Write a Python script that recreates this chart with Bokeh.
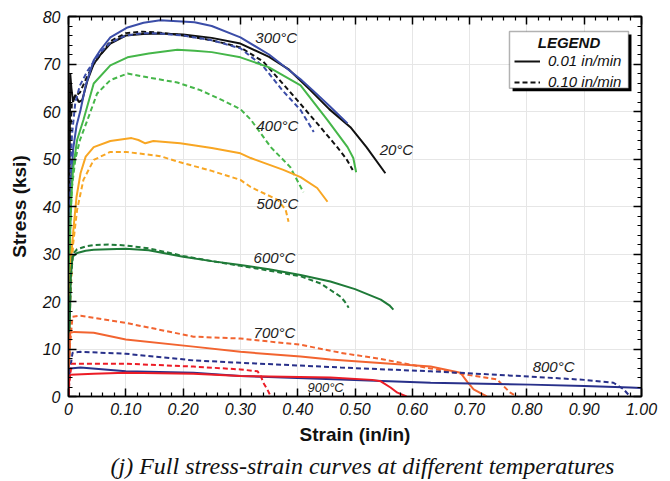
from bokeh.plotting import figure
from bokeh.models import (Range1d, FixedTicker, LinearAxis, Legend, LegendItem, Label,
                          BoxAnnotation, Title, NumeralTickFormatter)
from bokeh.embed import file_html
from bokeh.resources import INLINE

# ---------------- data (strain in/in, stress ksi) ----------------
s20_a = [0, 0.002, 0.003, 0.005, 0.008, 0.012, 0.018, 0.024, 0.033, 0.044, 0.056, 0.073, 0.10, 0.13, 0.16, 0.20, 0.25, 0.30, 0.35, 0.385, 0.422, 0.455, 0.492, 0.52, 0.553]
f20_a = [0, 50, 68, 65, 62, 63.5, 62, 62.4, 66.5, 70, 72, 74.3, 76, 76.3, 76.4, 76.2, 75.5, 74.3, 71.5, 68.8, 64.5, 60.5, 56.7, 52.5, 47]
s20_b = [0, 0.003, 0.006, 0.01, 0.02, 0.033, 0.044, 0.056, 0.073, 0.10, 0.13, 0.16, 0.20, 0.25, 0.30, 0.34, 0.384, 0.434, 0.469, 0.485, 0.496]
f20_b = [0, 55, 62, 63, 64, 67.5, 70, 72, 74.8, 76.5, 76.8, 76.6, 76, 75, 73.5, 70.5, 64.5, 57.5, 52.5, 50, 47.7]

s300_a = [0, 0.002, 0.004, 0.008, 0.014, 0.021, 0.03, 0.044, 0.056, 0.073, 0.103, 0.131, 0.16, 0.19, 0.22, 0.25, 0.30, 0.35, 0.405, 0.426, 0.455, 0.487]
f300_a = [0, 30, 43, 52, 57, 60.3, 65.5, 70.8, 73, 75.6, 77.7, 78.7, 79.2, 79, 78.8, 78, 75.6, 72, 66.8, 64.5, 61.2, 57.5]
s300_b = [0, 0.003, 0.006, 0.012, 0.02, 0.033, 0.044, 0.056, 0.073, 0.10, 0.13, 0.16, 0.20, 0.25, 0.30, 0.34, 0.373, 0.405, 0.428]
f300_b = [0, 45, 55, 62, 65.5, 68.5, 70.5, 72.5, 74.5, 76, 76.5, 76.4, 76, 75, 73.3, 69.5, 64.5, 60.3, 55.7]

s400_a = [0, 0.002, 0.004, 0.008, 0.015, 0.026, 0.044, 0.073, 0.103, 0.14, 0.19, 0.22, 0.25, 0.30, 0.35, 0.405, 0.452, 0.487, 0.497, 0.502]
f400_a = [0, 30, 40, 48, 54, 58.2, 65.9, 69.7, 71.4, 72.2, 73, 72.8, 72.5, 71.4, 69.3, 65.5, 58.2, 52.5, 50.2, 47.2]
s400_b = [0, 0.003, 0.006, 0.012, 0.02, 0.033, 0.05, 0.073, 0.103, 0.138, 0.19, 0.23, 0.27, 0.30, 0.318, 0.353, 0.387, 0.41]
f400_b = [0, 35, 44, 50, 54, 58.2, 63.8, 66.6, 68, 67.2, 66.1, 64.5, 62.3, 60.5, 58.3, 52.5, 48.3, 43]

s500_a = [0, 0.002, 0.005, 0.009, 0.014, 0.021, 0.03, 0.044, 0.073, 0.11, 0.122, 0.134, 0.148, 0.195, 0.25, 0.30, 0.318, 0.375, 0.405, 0.434, 0.452]
f500_a = [0, 20, 30, 35.7, 42, 47, 50.5, 52.5, 53.8, 54.4, 54, 53.3, 53.8, 53.3, 52.3, 51.2, 50.2, 47.7, 46.2, 43.9, 41]
s500_b = [0, 0.003, 0.008, 0.015, 0.026, 0.044, 0.073, 0.10, 0.16, 0.195, 0.25, 0.30, 0.318, 0.365, 0.379, 0.384]
f500_b = [0, 20, 32, 39.3, 45.6, 49.8, 51.5, 51.5, 50.6, 49.3, 47.5, 45.6, 44.1, 41.4, 39.3, 36.8]

s600_a = [0, 0.002, 0.004, 0.007, 0.015, 0.03, 0.044, 0.07, 0.10, 0.14, 0.20, 0.25, 0.30, 0.35, 0.405, 0.457, 0.50, 0.545, 0.56, 0.567]
f600_a = [0, 15, 25, 29.4, 30.2, 30.7, 30.9, 31, 31.1, 30.8, 29.4, 28.5, 27.7, 26.8, 25.6, 24.2, 22.6, 20.4, 19.2, 18.3]
s600_b = [0, 0.002, 0.004, 0.008, 0.015, 0.03, 0.044, 0.07, 0.10, 0.14, 0.20, 0.25, 0.30, 0.35, 0.405, 0.44, 0.475, 0.482, 0.489]
f600_b = [0, 15, 25, 30, 31, 31.6, 31.9, 32, 31.8, 31.2, 29.6, 28.5, 27.5, 26.5, 25.3, 23.8, 21, 20, 18.7]

s700_a = [0, 0.001, 0.003, 0.01, 0.044, 0.10, 0.218, 0.30, 0.405, 0.457, 0.55, 0.632, 0.684, 0.696, 0.707, 0.73]
f700_a = [0, 8, 13.4, 13.6, 13.4, 12, 10.5, 9.4, 8.4, 7.8, 7, 6.3, 5, 3.1, 1.5, 0]
s700_b = [0, 0.002, 0.007, 0.021, 0.10, 0.218, 0.30, 0.405, 0.475, 0.55, 0.632, 0.70, 0.748, 0.76, 0.771, 0.783]
f700_b = [0, 10, 16.8, 17, 15.5, 12.6, 12.2, 10.9, 9.2, 7.8, 5.9, 4.5, 3.6, 2.1, 0.8, 0]

s800_a = [0, 0.001, 0.003, 0.021, 0.10, 0.218, 0.30, 0.475, 0.632, 0.806, 0.90, 0.98, 1.0]
f800_a = [0, 4, 5.9, 6.1, 5.3, 5.0, 4.3, 3.6, 2.9, 2.5, 2.2, 1.9, 1.8]
s800_b = [0, 0.002, 0.007, 0.021, 0.10, 0.218, 0.30, 0.475, 0.632, 0.806, 0.90, 0.951, 0.969, 0.98]
f800_b = [0, 5, 9.2, 9.4, 9.0, 7.6, 7.1, 6.1, 5.3, 4.2, 3.5, 2.9, 1.5, 0]

s900_a = [0, 0.001, 0.003, 0.044, 0.10, 0.218, 0.30, 0.457, 0.53, 0.545, 0.562, 0.574, 0.59]
f900_a = [0, 3, 4.6, 4.8, 5.0, 4.8, 4.3, 4.0, 3.5, 3.2, 1.9, 0.8, 0]
s900_b = [0, 0.002, 0.006, 0.021, 0.10, 0.218, 0.30, 0.33, 0.336, 0.34, 0.347, 0.353]
f900_b = [0, 4, 6.9, 6.9, 6.9, 6.3, 5.7, 5.3, 4.2, 2.9, 1.5, 0]

temps = ["20", "300", "400", "500", "600", "700", "800", "900"]
x_ticks = [0, 0.1, 0.2, 0.3, 0.4, 0.5, 0.6, 0.7, 0.8, 0.9, 1.0]
y_ticks = [0, 10, 20, 30, 40, 50, 60, 70, 80]
legend_title = "LEGEND"
legend_labels = ["0.01 in/min", "0.10 in/min"]

series = {
    "20": (s20_a, f20_a, s20_b, f20_b),
    "300": (s300_a, f300_a, s300_b, f300_b),
    "400": (s400_a, f400_a, s400_b, f400_b),
    "500": (s500_a, f500_a, s500_b, f500_b),
    "600": (s600_a, f600_a, s600_b, f600_b),
    "700": (s700_a, f700_a, s700_b, f700_b),
    "800": (s800_a, f800_a, s800_b, f800_b),
    "900": (s900_a, f900_a, s900_b, f900_b),
}

# ---------------- styles ----------------
colors = {"20": "#111111", "300": "#3b4da8", "400": "#45b649", "500": "#f8a623",
          "600": "#1f7a38", "700": "#f26430", "800": "#28308a", "900": "#ec1c26"}
label_pos = {"20": (0.543, 51.9), "300": (0.326, 75.6), "400": (0.328, 57.1),
             "500": (0.328, 40.7), "600": (0.323, 29.2), "700": (0.323, 13.4),
             "800": (0.81, 6.3), "900": (0.417, 1.9)}
FONT = "Liberation Sans"

p = figure(width=670, height=481, x_range=Range1d(0, 1), y_range=Range1d(0, 80),
           output_backend="svg", toolbar_location=None,
           min_border_left=68, min_border_right=29, min_border_top=16, min_border_bottom=80)
p.background_fill_color = "white"
p.border_fill_color = "white"
p.outline_line_color = "black"
p.outline_line_width = 1.5

# legend frame: shadow, then white box with border
p.add_layout(BoxAnnotation(left=0.775, right=0.9825, top=76.2, bottom=64.25,
                           fill_color="black", fill_alpha=1, line_color=None))
p.add_layout(BoxAnnotation(left=0.7696, right=0.9773, top=76.85, bottom=64.88,
                           fill_color="white", fill_alpha=1, line_color="black", line_width=1.5))
p.add_layout(Label(x=0.8735, y=74.5, text=legend_title, text_font=FONT,
                   text_font_style="bold italic", text_font_size="15px", text_color="#111111",
                   text_align="center", text_baseline="middle"))

renderers = {}
for t in temps:
    sa, fa, sb, fb = series[t]
    ra = p.line(sa, fa, line_color=colors[t], line_width=2)
    rb = p.line(sb, fb, line_color=colors[t], line_width=2, line_dash="5 3")
    renderers[t] = (ra, rb)
    lx, ly = label_pos[t]
    p.add_layout(Label(x=lx, y=ly, text=t + "°C", text_font=FONT, text_font_style="italic",
                       text_font_size="13px" if t == "900" else "15px", text_color="#222222",
                       text_baseline="middle", text_align="left"))

# axes
for ax in (p.xaxis[0], p.yaxis[0]):
    ax.axis_line_color = "black"
    ax.axis_line_width = 1.5
    ax.major_tick_in = 8
    ax.major_tick_out = 0
    ax.minor_tick_in = 4
    ax.minor_tick_out = 0
    ax.major_tick_line_width = 1.5
    ax.minor_tick_line_width = 1.2
    ax.major_label_text_font = FONT
    ax.major_label_text_font_style = "italic"
    ax.major_label_text_font_size = "16px"
    ax.major_label_text_color = "#111111"
    ax.axis_label_text_font = FONT
    ax.axis_label_text_font_style = "bold"
    ax.axis_label_text_font_size = "19px"
    ax.axis_label_text_color = "#111111"

xminor = [round(i * 0.02, 2) for i in range(51) if i % 5]
yminor = [i * 2 for i in range(41) if i % 5]
p.xaxis[0].ticker = FixedTicker(ticks=x_ticks, minor_ticks=xminor)
p.yaxis[0].ticker = FixedTicker(ticks=y_ticks, minor_ticks=yminor)
p.xaxis[0].formatter = NumeralTickFormatter(format="0.00")
p.xaxis[0].major_label_overrides = {0: "0"}
p.xaxis[0].axis_label = "Strain (in/in)"
p.yaxis[0].axis_label = "Stress (ksi)"
p.xaxis[0].major_label_standoff = 6
p.xaxis[0].axis_label_standoff = 6
p.yaxis[0].major_label_standoff = 8
p.yaxis[0].axis_label_standoff = 10

# mirrored axes
for loc, tk, mn in (("above", x_ticks, xminor), ("right", y_ticks, yminor)):
    ax = LinearAxis(ticker=FixedTicker(ticks=tk, minor_ticks=mn))
    ax.axis_line_color = "black"
    ax.axis_line_width = 1.5
    ax.major_tick_in = 8
    ax.major_tick_out = 0
    ax.minor_tick_in = 4
    ax.minor_tick_out = 0
    ax.major_tick_line_width = 1.5
    ax.minor_tick_line_width = 1.2
    ax.major_label_overrides = {v: "" for v in tk}
    ax.major_label_standoff = 0
    p.add_layout(ax, loc)

p.xgrid.ticker = FixedTicker(ticks=x_ticks)
p.ygrid.ticker = FixedTicker(ticks=y_ticks)
p.grid.grid_line_color = "#e6e6e6"
p.grid.grid_line_width = 1

legend = Legend(items=[LegendItem(label=legend_labels[0], renderers=[renderers["20"][0]]),
                       LegendItem(label=legend_labels[1], renderers=[renderers["20"][1]])],
                location=(446, 306),
                label_text_font=FONT, label_text_font_style="italic", label_text_font_size="15px",
                label_text_color="#111111",
                border_line_color=None, background_fill_alpha=0,
                glyph_width=26, glyph_height=12, label_height=12,
                label_standoff=8, spacing=4, padding=0, margin=0)
p.add_layout(legend)

cap = Title(text="(j) Full stress-strain curves at different temperatures", align="left",
            offset=42, text_font="Liberation Serif", text_font_style="italic",
            text_font_size="24px", text_color="#111111", standoff=6)
p.add_layout(cap, "below")

open("out.html", "w").write(file_html(p, INLINE))
